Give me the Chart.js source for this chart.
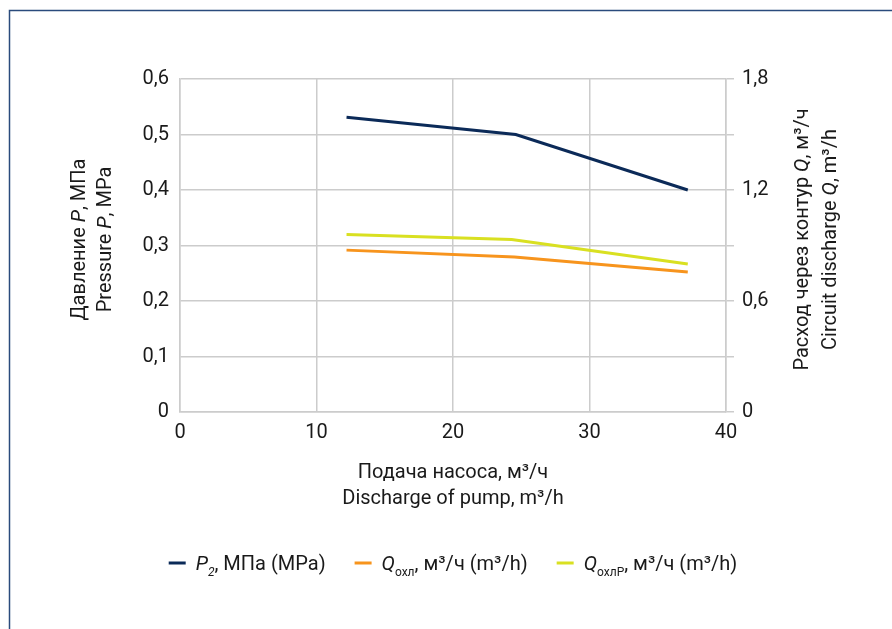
<!DOCTYPE html>
<html>
<head>
<meta charset="utf-8">
<script src="https://cdn.jsdelivr.net/npm/chart.js@4.4.1/dist/chart.umd.min.js"></script>
<style>
  html, body { margin: 0; padding: 0; background: #ffffff; }
  #wrap { width: 892px; height: 629px; position: relative; }
</style>
</head>
<body>
<div id="wrap"><canvas id="c" width="892" height="629"></canvas></div>
<script>
// ---- data ----
const pumpFlowP = [12.2, 24.6, 37.2];        // x, м³/ч
const pressureP2 = [0.531, 0.500, 0.400];    // МПа (left axis)
const pumpFlowQ = [12.2, 24.5, 37.2];
const flowQohl = [0.875, 0.838, 0.757];      // м³/ч (right axis)
const pumpFlowQR = [12.2, 24.3, 37.2];
const flowQohlR = [0.960, 0.933, 0.800];     // м³/ч (right axis)
const xTicks = [0, 10, 20, 30, 40];
const leftTicks = [0, 0.1, 0.2, 0.3, 0.4, 0.5, 0.6];
const rightLabelled = [0, 0.6, 1.2, 1.8];

const FONT = 'Roboto, "Open Sans", sans-serif';
const FS = 20;

function pts(xs, ys) { return xs.map((x, i) => ({ x: x, y: ys[i] })); }
function fmt(v) { return (Math.round(v * 10) / 10).toString().replace('.', ','); }

// rich text: runs of {t, i (italic), sub}
function runFont(r, size) {
  const s = r.sub ? Math.round(size * 0.62) : size;
  return (r.i ? 'italic ' : '') + s + 'px ' + FONT;
}
function richWidth(ctx, runs, size) {
  let w = 0;
  runs.forEach(r => { ctx.font = runFont(r, size); w += ctx.measureText(r.t).width; });
  return w;
}
function drawRich(ctx, runs, x, y, size, align, color) {
  const w = richWidth(ctx, runs, size);
  let cx = align === 'center' ? x - w / 2 : x;
  ctx.fillStyle = color || '#1a1a1a';
  ctx.textBaseline = 'alphabetic';
  ctx.textAlign = 'left';
  runs.forEach(r => {
    ctx.font = runFont(r, size);
    const dy = r.sub ? size * 0.32 : 0;
    ctx.fillText(r.t, cx, y + dy);
    cx += ctx.measureText(r.t).width;
  });
  return w;
}

const leftTitle = [
  [{ t: 'Давление ' }, { t: 'P', i: true }, { t: ', МПа' }],
  [{ t: 'Pressure ' }, { t: 'P', i: true }, { t: ', MPa' }]
];
const rightTitle = [
  [{ t: 'Расход через контур ' }, { t: 'Q', i: true }, { t: ', м³/ч' }],
  [{ t: 'Circuit discharge ' }, { t: 'Q', i: true }, { t: ', m³/h' }]
];
const bottomTitle = [
  [{ t: 'Подача насоса, м³/ч' }],
  [{ t: 'Discharge of pump, m³/h' }]
];
const legendItems = [
  { color: '#0b2a58', runs: [{ t: 'P', i: true }, { t: '2', i: true, sub: true }, { t: ', МПа (MPa)' }] },
  { color: '#f7941d', runs: [{ t: 'Q', i: true }, { t: 'охл', sub: true }, { t: ', м³/ч (m³/h)' }] },
  { color: '#d9e021', runs: [{ t: 'Q', i: true }, { t: 'охлР', sub: true }, { t: ', м³/ч (m³/h)' }] }
];

const decor = {
  id: 'decor',
  beforeDraw(chart) {
    const ctx = chart.ctx;
    ctx.save();
    ctx.fillStyle = '#ffffff';
    ctx.fillRect(0, 0, chart.width, chart.height);
    ctx.strokeStyle = '#2a4b7c';
    ctx.lineWidth = 1.5;
    ctx.beginPath();
    ctx.moveTo(9.5, chart.height);
    ctx.lineTo(9.5, 10.5);
    ctx.lineTo(chart.width, 10.5);
    ctx.stroke();
    ctx.restore();
  },
  afterDraw(chart) {
    const ctx = chart.ctx;
    const a = chart.chartArea;
    const midY = (a.top + a.bottom) / 2 - 6;
    const midX = (a.left + a.right) / 2;
    ctx.save();
    // left title
    [[78, leftTitle[0]], [104, leftTitle[1]]].forEach(([x, runs]) => {
      ctx.save();
      ctx.translate(x, midY);
      ctx.rotate(-Math.PI / 2);
      drawRich(ctx, runs, 0, 7, FS, 'center');
      ctx.restore();
    });
    // right title
    [[801, rightTitle[0]], [829, rightTitle[1]]].forEach(([x, runs]) => {
      ctx.save();
      ctx.translate(x, midY);
      ctx.rotate(-Math.PI / 2);
      drawRich(ctx, runs, 0, 7, FS, 'center');
      ctx.restore();
    });
    // bottom title
    drawRich(ctx, bottomTitle[0], midX, 478, FS, 'center');
    drawRich(ctx, bottomTitle[1], midX, 504, FS, 'center');
    // legend
    const markW = 17, gapMT = 10, gapItems = 29;
    let total = 0;
    const widths = legendItems.map(it => richWidth(ctx, it.runs, FS));
    widths.forEach((w, i) => { total += markW + gapMT + w + (i < widths.length - 1 ? gapItems : 0); });
    let x = midX - total / 2;
    const ly = 563;
    legendItems.forEach((it, i) => {
      ctx.strokeStyle = it.color;
      ctx.lineWidth = 3;
      ctx.beginPath();
      ctx.moveTo(x, ly);
      ctx.lineTo(x + markW, ly);
      ctx.stroke();
      x += markW + gapMT;
      drawRich(ctx, it.runs, x, ly + 7, FS, 'left');
      x += widths[i] + gapItems;
    });
    ctx.restore();
  }
};

const grid = '#cccccc';
new Chart(document.getElementById('c'), {
  type: 'line',
  data: {
    datasets: [
      { label: 'P2', data: pts(pumpFlowP, pressureP2), yAxisID: 'y', borderColor: '#0b2a58', borderWidth: 3, pointRadius: 0, tension: 0, fill: false },
      { label: 'Qохл', data: pts(pumpFlowQ, flowQohl), yAxisID: 'y2', borderColor: '#f7941d', borderWidth: 3, pointRadius: 0, tension: 0, fill: false },
      { label: 'QохлР', data: pts(pumpFlowQR, flowQohlR), yAxisID: 'y2', borderColor: '#d9e021', borderWidth: 3, pointRadius: 0, tension: 0, fill: false }
    ]
  },
  options: {
    responsive: false,
    animation: false,
    devicePixelRatio: 1,
    layout: { padding: { top: 79, left: 0, right: 0, bottom: 0 } },
    plugins: { legend: { display: false }, tooltip: { enabled: false }, title: { display: false } },
    scales: {
      x: {
        type: 'linear', min: 0, max: 40,
        afterBuildTicks: s => { s.ticks = xTicks.map(v => ({ value: v })); },
        afterFit: s => { s.height = 629 - 412; },
        grid: { color: grid, lineWidth: 1.5, drawTicks: false },
        border: { color: grid, width: 1.5 },
        ticks: { padding: 9, color: '#1a1a1a', font: { family: FONT, size: FS }, maxRotation: 0, callback: v => fmt(v) }
      },
      y: {
        type: 'linear', position: 'left', min: 0, max: 0.6,
        afterBuildTicks: s => { s.ticks = leftTicks.map(v => ({ value: v })); },
        afterFit: s => { s.width = 180; },
        grid: { color: grid, lineWidth: 1.5, drawTicks: false },
        border: { color: grid, width: 1.5 },
        ticks: { padding: 11, color: '#1a1a1a', font: { family: FONT, size: FS }, callback: v => fmt(v) }
      },
      y2: {
        type: 'linear', position: 'right', min: 0, max: 1.8,
        afterBuildTicks: s => { s.ticks = leftTicks.map(v => ({ value: Math.round(v * 30) / 10 })); },
        afterFit: s => { s.width = 892 - 726; },
        grid: { color: grid, lineWidth: 1.5, drawOnChartArea: false, tickLength: 8 },
        border: { color: grid, width: 1.5 },
        ticks: { padding: 8, color: '#1a1a1a', font: { family: FONT, size: FS },
          callback: v => rightLabelled.some(r => Math.abs(r - v) < 1e-6) ? fmt(v) : '' }
      }
    }
  },
  plugins: [decor]
});
</script>
</body>
</html>
